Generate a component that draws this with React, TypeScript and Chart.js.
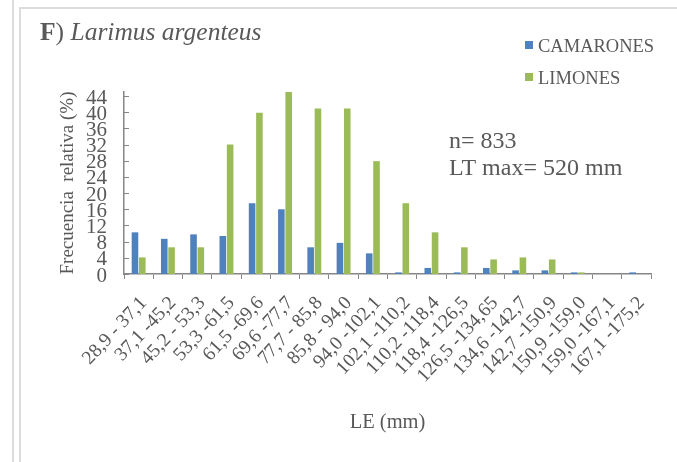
import React, { useEffect, useRef } from "react";
import { Chart, registerables } from "chart.js";

Chart.register(...registerables);

const categories = [
  "28,9 - 37,1", "37,1 -45,2", "45,2 - 53,3", "53,3 -61,5", "61,5 -69,6", "69,6 -77,7",
  "77,7 - 85,8", "85,8 - 94,0", "94,0 -102,1", "102,1 -110,2", "110,2 -118,4", "118,4 -126,5",
  "126,5 -134,65", "134,6 -142,7", "142,7 -150,9", "150,9 -159,0", "159,0 -167,1", "167,1 -175,2",
];
const camarones = [10.3, 8.7, 9.8, 9.4, 17.5, 16.0, 6.6, 7.7, 5.1, 0.4, 1.5, 0.4, 1.5, 0.9, 0.9, 0.4, 0, 0.4];
const limones = [4.1, 6.6, 6.6, 32.0, 39.9, 45.1, 40.9, 40.9, 27.9, 17.5, 10.3, 6.6, 3.6, 4.1, 3.6, 0.4, 0, 0];
const yTickValues = [0, 4, 8, 12, 16, 20, 24, 28, 32, 36, 40, 44];
const seriesNames = ["CAMARONES", "LIMONES"];
const seriesColors = ["#4F81BD", "#9BBB59"];
const titleBold = "F";
const titleRest = "Larimus argenteus";
const noteLines = ["n= 833", "LT max= 520 mm"];
const yTitle = "Frecuencia  relativa (%)";
const xTitle = "LE (mm)";

const FONT = "'Liberation Serif', 'Times New Roman', serif";
const TEXT = "#595959";
const AXIS = "#868686";

const overlayPlugin = {
  id: "overlay",
  afterDraw(chart: any) {
    const ctx = chart.ctx;
    ctx.save();
    // inner y ticks
    const y = chart.scales.y;
    ctx.strokeStyle = AXIS;
    ctx.lineWidth = 1;
    y.ticks.forEach((t: any) => {
      const py = Math.round(y.getPixelForValue(t.value)) + 0.5;
      ctx.beginPath();
      ctx.moveTo(chart.chartArea.left, py);
      ctx.lineTo(chart.chartArea.left + 5, py);
      ctx.stroke();
    });
    // title
    ctx.fillStyle = TEXT;
    ctx.textBaseline = "alphabetic";
    ctx.textAlign = "left";
    let x = 40;
    ctx.font = `bold 25.5px ${FONT}`;
    ctx.fillText(titleBold, x, 40);
    x += ctx.measureText(titleBold).width;
    ctx.font = `25.5px ${FONT}`;
    ctx.fillText(") ", x, 40);
    x += ctx.measureText(") ").width;
    ctx.font = `italic 25.5px ${FONT}`;
    ctx.fillText(titleRest, x, 40);
    // legend
    ctx.font = `18.5px ${FONT}`;
    const rows = [45, 77];
    seriesNames.forEach((n, i) => {
      ctx.fillStyle = seriesColors[i];
      ctx.fillRect(525, rows[i] - 4, 8, 8);
      ctx.fillStyle = TEXT;
      ctx.fillText(n, 538, rows[i] + 7);
    });
    // note
    ctx.font = `24px ${FONT}`;
    ctx.fillText(noteLines[0], 449, 148);
    ctx.fillText(noteLines[1], 449, 175);
    ctx.restore();
  },
};

export default function App() {
  const ref = useRef<HTMLCanvasElement>(null);
  useEffect(() => {
    if (!ref.current) return;
    const chart = new Chart(ref.current, {
      type: "bar",
      data: {
        labels: categories,
        datasets: [
          { label: seriesNames[0], data: camarones, backgroundColor: seriesColors[0], categoryPercentage: 0.5, barPercentage: 0.9 },
          { label: seriesNames[1], data: limones, backgroundColor: seriesColors[1], categoryPercentage: 0.5, barPercentage: 0.9 },
        ],
      },
      options: {
        responsive: false,
        animation: false,
        layout: { padding: { left: 57, top: 92, right: 26, bottom: 27 } },
        plugins: { legend: { display: false }, tooltip: { enabled: false } },
        scales: {
          x: {
            offset: true,
            grid: { display: true, drawOnChartArea: false, drawTicks: true, tickLength: 5, color: AXIS, lineWidth: 1, offset: true },
            border: { display: true, color: AXIS, width: 1.5 },
            ticks: { color: TEXT, font: { family: FONT, size: 19.5 }, minRotation: 47, maxRotation: 47, autoSkip: false, padding: 13, labelOffset: 5 },
            title: { display: true, text: xTitle, color: TEXT, font: { family: FONT, size: 20.5 }, padding: 0 },
            afterFit: (s: any) => { s.height = 161; },
          } as any,
          y: {
            min: 0,
            max: 45,
            afterBuildTicks: (s: any) => { s.ticks = yTickValues.map((v) => ({ value: v })); },
            grid: { display: false, drawTicks: false },
            border: { display: true, color: AXIS, width: 1.5 },
            ticks: { autoSkip: false, color: TEXT, font: { family: FONT, size: 21 }, padding: 17, labelOffset: 2 },
            title: { display: true, text: yTitle, color: TEXT, font: { family: FONT, size: 19 }, padding: 0 },
            afterFit: (s: any) => { s.width = 67; },
          } as any,
        },
      },
      plugins: [overlayPlugin],
    });
    return () => chart.destroy();
  }, []);
  return (
    <div style={{ position: "fixed", left: 0, top: 0, width: 677, height: 462, background: "#fff" }}>
      <div style={{ position: "absolute", left: 12, top: 0, width: 2, height: 462, background: "#dcdcdc" }} />
      <div style={{ position: "absolute", left: 19, top: 7, right: 0, bottom: 0, borderTop: "2px solid #dcdcdc", borderLeft: "2px solid #dcdcdc" }} />
      <canvas ref={ref} width={677} height={462} style={{ position: "absolute", left: 0, top: 0, width: 677, height: 462 }} />
    </div>
  );
}
